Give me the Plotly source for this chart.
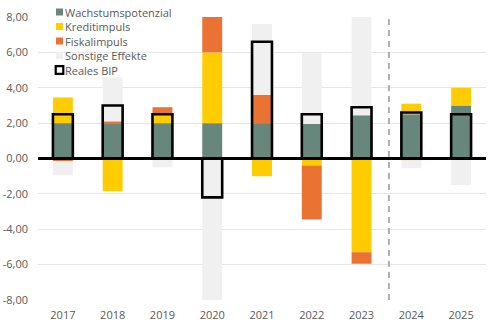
import plotly.graph_objects as go

years = ["2017", "2018", "2019", "2020", "2021", "2022", "2023", "2024", "2025"]
wachstum = [2.0, 2.0, 2.0, 2.0, 2.0, 1.95, 2.45, 2.5, 3.0]
kredit = [1.45, -1.85, 0.5, 4.0, -1.0, -0.4, -5.3, 0.6, 1.0]
fiskal = [-0.15, 0.1, 0.4, 2.0, 1.6, -3.05, -0.65, -0.1, 0.0]
sonstige = [-0.8, 2.5, -0.5, -10.2, 4.0, 4.0, 6.4, -0.45, -1.5]
bip = [2.5, 3.0, 2.5, -2.2, 6.6, 2.5, 2.9, 2.6, 2.5]

series_names = ["Wachstumspotenzial", "Kreditimpuls", "Fiskalimpuls", "Sonstige Effekte"]
series_values = [wachstum, kredit, fiskal, sonstige]
series_colors = ["#67877d", "#ffcc00", "#ea7233", "#f0f0f0"]
bip_name = "Reales BIP"

y_ticks = [-8, -6, -4, -2, 0, 2, 4, 6, 8]
y_tick_labels = ["-8,00", "-6,00", "-4,00", "-2,00", "0,00", "2,00", "4,00", "6,00", "8,00"]

W, H = 500, 329
L, R, T, B = 38, 14, 17, 29
PW, PH = W - L - R, H - T - B

fig = go.Figure()
for name, vals, col in zip(series_names, series_values, series_colors):
    fig.add_trace(go.Bar(x=years, y=vals, name=name, marker=dict(color=col, line=dict(width=0)),
                         showlegend=False))
fig.add_trace(go.Bar(x=years, y=bip, name=bip_name, xaxis="x2",
                     marker=dict(color="rgba(0,0,0,0)", line=dict(color="#000000", width=2.6)),
                     showlegend=False))

font_col = "#595959"
fs = 11
fig.update_layout(
    width=W, height=H, margin=dict(l=L, r=R, t=T, b=B, autoexpand=False),
    paper_bgcolor="white", plot_bgcolor="white",
    barmode="relative", bargap=0.6,
    font=dict(family="Open Sans", size=fs, color=font_col),
    xaxis=dict(categoryorder="array", categoryarray=years, showgrid=False, zeroline=False,
               showline=False, ticks="", ticklabelstandoff=7, automargin=False,
               tickfont=dict(size=fs, color=font_col)),
    xaxis2=dict(overlaying="x", matches="x", visible=False, categoryorder="array",
                categoryarray=years),
    yaxis=dict(range=[-8, 8], tickvals=y_ticks, ticktext=y_tick_labels, showgrid=True,
               gridcolor="#e6e6e6", gridwidth=1, zeroline=False, showline=False, ticks="",
               ticklabelstandoff=9, automargin=False, tickfont=dict(size=fs, color=font_col)),
)

# zero line and forecast separator
fig.add_shape(type="line", xref="paper", yref="y", x0=0, x1=1, y0=0, y1=0,
              line=dict(color="#000000", width=3), layer="above")
fig.add_shape(type="line", xref="x", yref="paper", x0=6.55, x1=6.55, y0=0, y1=1.0,
              line=dict(color="#b0b0b0", width=2, dash="6px,5px"), layer="above")

# manual legend
def px_x(px):
    return (px - L) / PW

def px_y(py):
    return (H - B - py) / PH

legend_names = series_names + [bip_name]
row0, step = 12.0, 14.5
for i, name in enumerate(legend_names):
    cy = row0 + i * step
    if i < len(series_names):
        s = 3.5
        fig.add_shape(type="rect", xref="paper", yref="paper",
                      x0=px_x(59.5 - s), x1=px_x(59.5 + s), y0=px_y(cy + s), y1=px_y(cy - s),
                      fillcolor=series_colors[i], line=dict(width=0), layer="above")
    else:
        s = 3.8
        fig.add_shape(type="rect", xref="paper", yref="paper",
                      x0=px_x(59.5 - s), x1=px_x(59.5 + s), y0=px_y(cy + s), y1=px_y(cy - s),
                      fillcolor="white", line=dict(color="#000000", width=2.2), layer="above")
    fig.add_annotation(text=name, xref="paper", yref="paper", x=px_x(64), y=px_y(cy),
                       xanchor="left", yanchor="middle", showarrow=False, height=13,
                       borderpad=0, font=dict(size=fs, color=font_col))

fig.write_html("out.html")
